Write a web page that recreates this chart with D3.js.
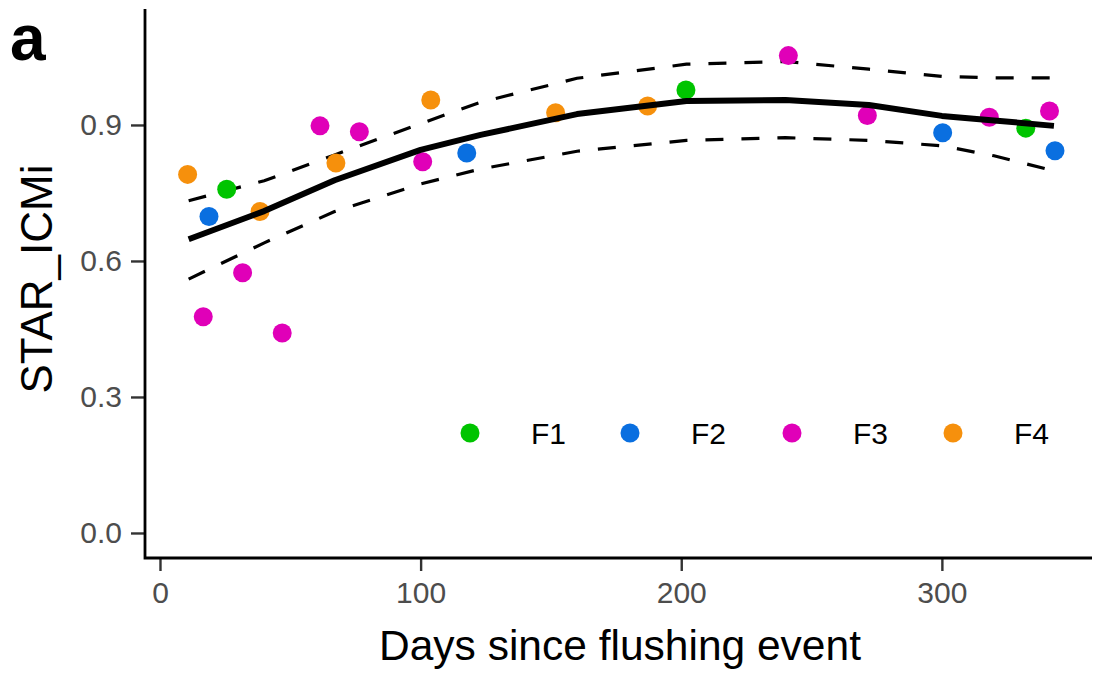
<!DOCTYPE html>
<html>
<head>
<meta charset="utf-8">
<script src="https://cdn.jsdelivr.net/npm/d3@7"></script>
<style>
  body { margin: 0; background: #fff; }
  text { font-family: "Liberation Sans", Arial, sans-serif; }
</style>
</head>
<body>
<svg id="chart"></svg>
<script>
// ---------------------- data ---------------------------
const groups = ["F1", "F2", "F3", "F4"];
const groupColors = ["#00c400", "#0a6fe0", "#e000b8", "#f6900c"];

// points per group: days since flushing, STAR_ICMi
const f1Days = [25.6, 201.8, 332.2];
const f1Vals = [0.758, 0.977, 0.893];
const f2Days = [18.8, 117.7, 300.3, 343.4];
const f2Vals = [0.698, 0.838, 0.883, 0.843];
const f3Days = [16.6, 31.7, 46.9, 61.4, 76.5, 100.8, 241.1, 271.4, 318.2, 341.3];
const f3Vals = [0.477, 0.574, 0.441, 0.898, 0.885, 0.819, 1.053, 0.921, 0.917, 0.931];
const f4Days = [10.6, 38.4, 67.5, 103.9, 151.8, 187.1];
const f4Vals = [0.791, 0.709, 0.816, 0.955, 0.927, 0.942];

// fitted curve with confidence band
const fitDays  = [11, 40, 67, 100, 123, 160, 202, 240, 272, 300, 320, 343];
const fitVals  = [0.648, 0.710, 0.778, 0.845, 0.878, 0.924, 0.953, 0.955, 0.944, 0.920, 0.910, 0.898];
const fitLower = [0.560, 0.640, 0.709, 0.770, 0.803, 0.842, 0.866, 0.872, 0.866, 0.854, 0.832, 0.799];
const fitUpper = [0.733, 0.777, 0.834, 0.903, 0.950, 1.003, 1.034, 1.040, 1.023, 1.007, 1.004, 1.004];

const xTicks = [0, 100, 200, 300];
const yTicks = [0.0, 0.3, 0.6, 0.9];

// ---------------------- layout ---------------------------
const width = 1094, height = 675;
const plotLeft = 145, plotRight = 1092, plotTop = 9, plotBottom = 558;

const svg = d3.select("#chart")
  .attr("width", width)
  .attr("height", height);

const xScale = d3.scaleLinear().domain([-5.75, 357.6]).range([plotLeft, plotRight]);
const yScale = d3.scaleLinear().domain([-0.0552, 1.1558]).range([plotBottom, plotTop]);

// ---------------------- axes ---------------------------
const xAxis = svg.append("g")
  .attr("transform", "translate(0," + plotBottom + ")")
  .call(d3.axisBottom(xScale).tickValues(xTicks).tickFormat(d3.format("d")).tickSize(13).tickPadding(11));

const yAxis = svg.append("g")
  .attr("transform", "translate(" + plotLeft + ",0)")
  .call(d3.axisLeft(yScale).tickValues(yTicks).tickFormat(d3.format(".1f")).tickSize(14).tickPadding(9));

[xAxis, yAxis].forEach(ax => {
  ax.select(".domain").remove();
  ax.selectAll(".tick line").attr("stroke", "#333").attr("stroke-width", 2.4);
  ax.selectAll(".tick text").attr("fill", "#4d4d4d").style("font-size", "30px");
});

// axis lines (L shape)
svg.append("path")
  .attr("d", "M" + plotLeft + "," + plotTop + "V" + plotBottom + "H" + plotRight)
  .attr("fill", "none")
  .attr("stroke", "#000")
  .attr("stroke-width", 2.8);

// titles
svg.append("text")
  .attr("x", 620)
  .attr("y", 660)
  .attr("text-anchor", "middle")
  .style("font-size", "42.5px")
  .text("Days since flushing event");

svg.append("text")
  .attr("transform", "translate(52," + 279 + ") rotate(-90)")
  .attr("text-anchor", "middle")
  .style("font-size", "44px")
  .text("STAR_ICMi");

svg.append("text")
  .attr("x", 10)
  .attr("y", 60)
  .style("font-size", "64px")
  .style("font-weight", "bold")
  .text("a");

// ---------------------- fit lines ---------------------------
const fitLine = (vals) => d3.line()
  .x((d, i) => xScale(fitDays[i]))
  .y(d => yScale(d))(vals);

svg.append("path")
  .attr("d", fitLine(fitLower))
  .attr("fill", "none").attr("stroke", "#000")
  .attr("stroke-width", 3.2).attr("stroke-dasharray", "18,18");

svg.append("path")
  .attr("d", fitLine(fitUpper))
  .attr("fill", "none").attr("stroke", "#000")
  .attr("stroke-width", 3.2).attr("stroke-dasharray", "18,18");

// ---------------------- points ---------------------------
const series = [
  { days: f1Days, vals: f1Vals },
  { days: f2Days, vals: f2Vals },
  { days: f3Days, vals: f3Vals },
  { days: f4Days, vals: f4Vals }
];

series.forEach((s, gi) => {
  svg.append("g").selectAll("circle")
    .data(s.days.map((d, i) => ({ x: d, y: s.vals[i] })))
    .join("circle")
    .attr("cx", d => xScale(d.x))
    .attr("cy", d => yScale(d.y))
    .attr("r", 9.5)
    .attr("fill", groupColors[gi]);
});

svg.append("path")
  .attr("d", fitLine(fitVals))
  .attr("fill", "none").attr("stroke", "#000")
  .attr("stroke-width", 6).attr("stroke-linejoin", "round");

// ---------------------- legend ---------------------------
const legendX = [470, 630, 792, 953];
const legend = svg.append("g");
groups.forEach((g, i) => {
  legend.append("circle")
    .attr("cx", legendX[i]).attr("cy", 433)
    .attr("r", 9.5)
    .attr("fill", groupColors[i]);
  legend.append("text")
    .attr("x", legendX[i] + 61).attr("y", 444)
    .style("font-size", "30px")
    .text(g);
});
</script>
</body>
</html>
